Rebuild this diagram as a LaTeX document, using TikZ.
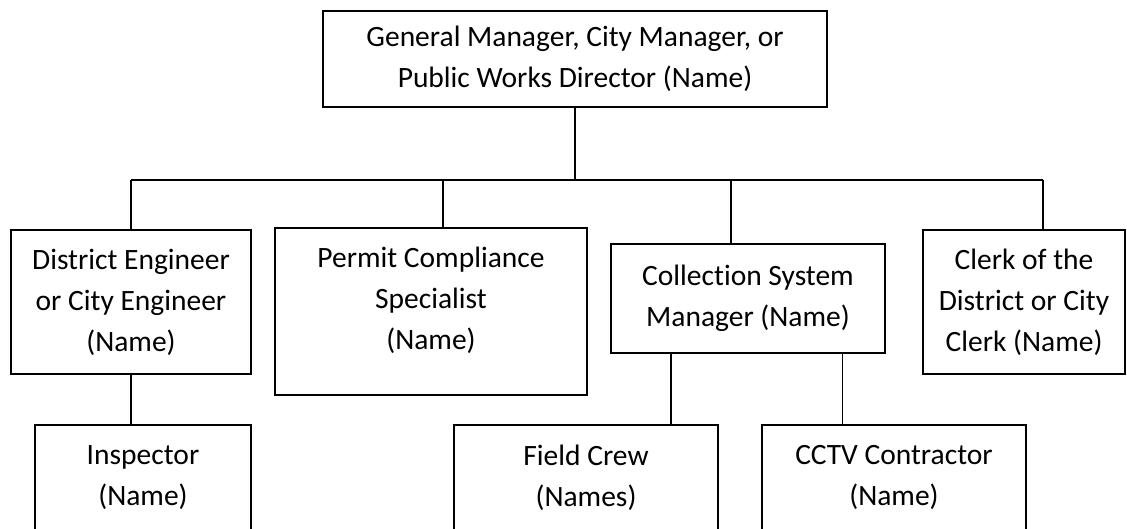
\documentclass[tikz,border=0pt]{standalone}
\usepackage{fontspec}
\setmainfont[Ligatures=CommonOff]{Carlito}
\usetikzlibrary{calc,
  positioning
}
\tikzstyle{orgbox} = [draw, line width=2pt, align=center, inner sep=0pt,
  font=\fontsize{29.5}{41}\selectfont]
\tikzstyle{link} = [line width=1.6pt]
\newcommand{\lift}[1]{\\[#1]\mbox{}}

\begin{document}
\begin{tikzpicture}[x=1pt, y=-1pt]
  \useasboundingbox (0, 0) rectangle (1127, 529);

  \node[orgbox, minimum width=504pt, minimum height=96pt] (gm) at (575, 59)
    {General Manager, City Manager, or\\Public Works Director (Name)};

  \node[orgbox, minimum width=240pt, minimum height=144pt] (eng) at (131, 302)
    {District Engineer\\or City Engineer\\(Name)};
  \node[orgbox, minimum width=312pt, minimum height=167pt] (permit) at (431, 311.5)
    {Permit Compliance\\Specialist\\(Name)\lift{-14pt}};
  \node[orgbox, minimum width=274pt, minimum height=109pt] (csm) at (748, 298.5)
    {Collection System\\Manager (Name)\lift{-36pt}};
  \node[orgbox, minimum width=202pt, minimum height=144pt] (clerk) at (1024, 302)
    {Clerk of the\\District or City\\Clerk (Name)};

  \node[orgbox, minimum width=216pt, minimum height=120pt] (insp) at (143, 485)
    {Inspector\\(Name)\lift{-22pt}};
  \node[orgbox, minimum width=264pt, minimum height=120pt] (crew) at (586, 485)
    {Field Crew\\(Names)\lift{-22pt}};
  \node[orgbox, minimum width=264pt, minimum height=120pt] (cctv) at (894, 485)
    {CCTV Contractor\\(Name)\lift{-22pt}};

  % bar under the top box
  \coordinate (j1) at (131, 180);
  \coordinate (j2) at (443, 180);
  \coordinate (j3) at (731, 180);
  \coordinate (j4) at (1043, 180);
  \draw[link] (gm.south) -- (gm.south |- j1);
  \draw[link] (j1) -- (j4);
  \draw[link] (j1) -- (j1 |- eng.north);
  \draw[link] (j2) -- (j2 |- permit.north);
  \draw[link] (j3) -- (j3 |- csm.north);
  \draw[link] (j4) -- (j4 |- clerk.north);

  \draw[link] (eng.south) -- (eng.south |- insp.north);

  \coordinate (c1) at ($(csm.south west)!0.22!(csm.south east)$);
  \coordinate (c2) at ($(csm.south west)!0.843!(csm.south east)$);
  \draw[link] (c1) -- (c1 |- crew.north);
  \draw[link] (c2) -- (c2 |- cctv.north);
\end{tikzpicture}
\end{document}
